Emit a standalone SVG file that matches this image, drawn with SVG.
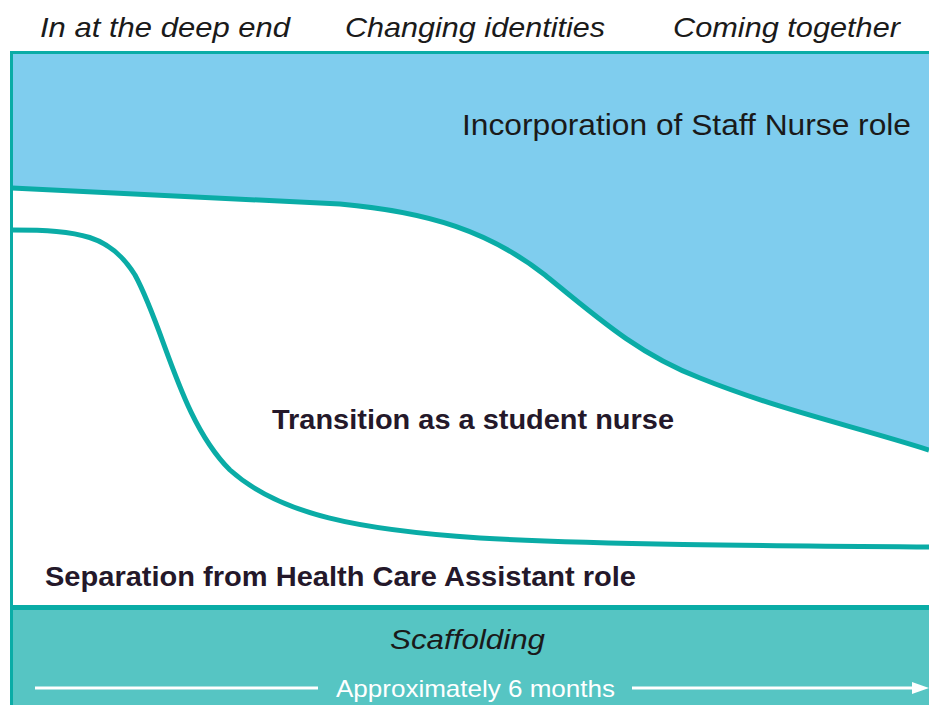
<svg xmlns="http://www.w3.org/2000/svg" width="929" height="705" viewBox="0 0 929 705">
<style>
.hd{font-family:"Liberation Sans",Arial,sans-serif;font-style:italic;font-size:28px;fill:#1a1a1a}
.lb{font-family:"Liberation Sans",Arial,sans-serif;font-size:29px;fill:#1a1a1a}
.bd{font-family:"Liberation Sans",Arial,sans-serif;font-weight:bold;font-size:27px;fill:#24182a}
.curve{fill:none;stroke:#0aaca6;stroke-width:5}
</style>
<rect x="0" y="0" width="929" height="705" fill="#ffffff"/>
<g id="headers">
<text class="hd" x="40" y="37" textLength="250" lengthAdjust="spacingAndGlyphs">In at the deep end</text>
<text class="hd" x="345" y="37" textLength="260" lengthAdjust="spacingAndGlyphs">Changing identities</text>
<text class="hd" x="673" y="37" textLength="227" lengthAdjust="spacingAndGlyphs">Coming together</text>
</g>
<g id="staff-nurse">
<path d="M12,188 L340,204 C430,212 490,232 545,275 C600,320 640,355 700,378 C780,410 850,425 929,450 L929,52 L12,52 Z" fill="#7fcdee"/>
<text class="lb" x="462" y="135" textLength="449" lengthAdjust="spacingAndGlyphs">Incorporation of Staff Nurse role</text>
</g>
<g id="frame">
<rect x="10" y="51" width="919" height="3" fill="#0aaca6"/>
<rect x="10" y="51" width="3" height="654" fill="#0aaca6"/>
</g>
<g id="connectors">
<path class="curve" d="M12,188 L340,204 C430,212 490,232 545,275 C600,320 640,355 700,378 C780,410 850,425 929,450"/>
<path class="curve" d="M12,230 C80,230 110,235 135,275 C165,330 180,420 230,470 C280,515 360,530 480,538 C600,545 800,546 929,547"/>
</g>
<g id="transition">
<text class="bd" x="272" y="429" textLength="402" lengthAdjust="spacingAndGlyphs">Transition as a student nurse</text>
</g>
<g id="separation">
<text class="bd" x="45" y="586" textLength="591" lengthAdjust="spacingAndGlyphs">Separation from Health Care Assistant role</text>
</g>
<g id="scaffolding">
<rect x="13" y="605" width="916" height="5" fill="#0aaca6"/>
<rect x="13" y="610" width="916" height="95" fill="#56c5c3"/>
<text class="hd" x="390" y="649" textLength="155" lengthAdjust="spacingAndGlyphs" style="font-size:27px">Scaffolding</text>
<line x1="35" y1="688" x2="318" y2="688" stroke="#ffffff" stroke-width="3"/>
<line x1="632" y1="688" x2="914" y2="688" stroke="#ffffff" stroke-width="3"/>
<polygon points="912,682 929,688 912,694" fill="#ffffff"/>
<text x="336" y="697" textLength="279" lengthAdjust="spacingAndGlyphs" style="font-family:'Liberation Sans',Arial,sans-serif;font-size:24px;fill:#ffffff">Approximately 6 months</text>
</g>
</svg>
